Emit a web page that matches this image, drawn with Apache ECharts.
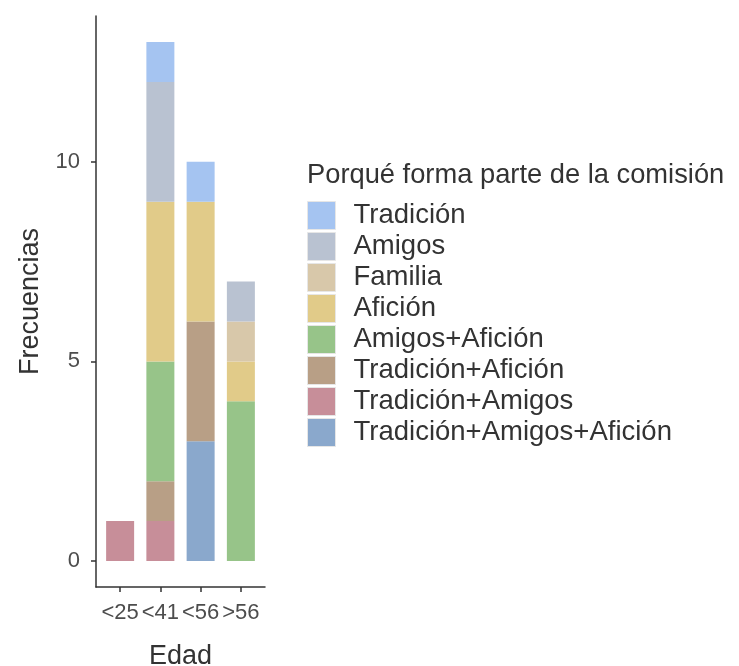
<!DOCTYPE html>
<html>
<head>
<meta charset="utf-8">
<script src="https://cdn.jsdelivr.net/npm/echarts@6/dist/echarts.min.js"></script>
<style>
  html, body { margin: 0; padding: 0; background: #fff; }
  #chart { width: 739px; height: 666px; }
</style>
</head>
<body>
<div id="chart"></div>
<script>
// Age groups on the x axis
const categories = ['<25', '<41', '<56', '>56'];

// Counts per age group for each reason (stack order: bottom to top)
const tradAmigosAficion = [0, 0, 3, 0];
const tradAmigos        = [1, 1, 0, 0];
const tradAficion       = [0, 1, 3, 0];
const amigosAficion     = [0, 3, 0, 4];
const aficion           = [0, 4, 3, 1];
const familia           = [0, 0, 0, 1];
const amigos            = [0, 3, 0, 1];
const tradicion         = [0, 1, 1, 0];

const yTicks = [0, 5, 10];

const stackSeries = [
  { name: 'Tradición+Amigos+Afición', values: tradAmigosAficion, color: '#8aa8cc' },
  { name: 'Tradición+Amigos',         values: tradAmigos,        color: '#c78e99' },
  { name: 'Tradición+Afición',        values: tradAficion,       color: '#b89f86' },
  { name: 'Amigos+Afición',           values: amigosAficion,     color: '#97c489' },
  { name: 'Afición',                  values: aficion,           color: '#e1cb89' },
  { name: 'Familia',                  values: familia,           color: '#d8c8aa' },
  { name: 'Amigos',                   values: amigos,            color: '#b9c2d1' },
  { name: 'Tradición',                values: tradicion,         color: '#a5c4f1' }
];

const FONT = 'Liberation Sans';
const AXIS_COLOR = '#333333';
const Y_MIN = -0.65, Y_MAX = 13.65;

const chart = echarts.init(document.getElementById('chart'), null, { renderer: 'canvas' });

const series = stackSeries.map(s => ({
  name: s.name,
  type: 'bar',
  stack: 'total',
  xAxisIndex: 1,
  yAxisIndex: 1,
  barWidth: 28,
  itemStyle: { color: s.color, borderWidth: 0 },
  emphasis: { disabled: true },
  data: s.values
}));

chart.setOption({
  animation: false,
  backgroundColor: '#ffffff',
  textStyle: { fontFamily: FONT },
  grid: [
    // outer frame: axis lines, y labels and titles
    { left: 96, top: 16, width: 169, height: 571, containLabel: false, outerBoundsMode: 'none' },
    // inner band area: discrete positions with 0.6 padding on each side
    { left: 100, top: 16, width: 161, height: 571, containLabel: false, outerBoundsMode: 'none' }
  ],
  xAxis: [
    {
      gridIndex: 0,
      type: 'value',
      min: 0, max: 1,
      name: 'Edad',
      nameLocation: 'middle',
      nameGap: 56,
      nameTextStyle: { fontSize: 27, color: AXIS_COLOR, fontFamily: FONT },
      axisLine: { show: true, onZero: false, lineStyle: { color: AXIS_COLOR, width: 1.5 } },
      axisTick: { show: false },
      axisLabel: { show: false },
      splitLine: { show: false }
    },
    {
      gridIndex: 1,
      type: 'category',
      data: categories,
      boundaryGap: true,
      axisLine: { show: false, onZero: false },
      axisTick: { show: true, alignWithLabel: true, length: 5, lineStyle: { color: AXIS_COLOR, width: 1.5 } },
      axisLabel: { fontSize: 22, color: '#4d4d4d', margin: 15, fontFamily: FONT, interval: 0 },
      splitLine: { show: false }
    }
  ],
  yAxis: [
    {
      gridIndex: 0,
      type: 'value',
      min: Y_MIN, max: Y_MAX,
      name: 'Frecuencias',
      nameLocation: 'middle',
      nameGap: 52,
      nameTextStyle: { fontSize: 27, color: AXIS_COLOR, fontFamily: FONT },
      axisLine: { show: true, onZero: false, lineStyle: { color: AXIS_COLOR, width: 1.5 } },
      axisTick: { show: true, length: 5, customValues: yTicks, lineStyle: { color: AXIS_COLOR, width: 1.5 } },
      axisLabel: { customValues: yTicks, fontSize: 22, color: '#4d4d4d', margin: 16, fontFamily: FONT },
      splitLine: { show: false }
    },
    {
      gridIndex: 1,
      type: 'value',
      min: Y_MIN, max: Y_MAX,
      show: false,
      splitLine: { show: false }
    }
  ],
  legend: {
    orient: 'vertical',
    left: 307,
    top: 201,
    padding: 0,
    itemWidth: 28,
    itemHeight: 28,
    itemGap: 2,
    icon: 'rect',
    selectedMode: false,
    data: stackSeries.slice().reverse().map(s => ({
      name: s.name,
      itemStyle: { borderColor: '#e6e6e6', borderWidth: 1 }
    })),
    textStyle: { fontSize: 27.5, color: AXIS_COLOR, fontFamily: FONT, padding: [0, 0, 0, 13] }
  },
  graphic: [{
    type: 'text',
    x: 307,
    y: 175,
    style: {
      text: 'Porqué forma parte de la comisión',
      fontSize: 27.3, fill: AXIS_COLOR, fontFamily: FONT,
      verticalAlign: 'middle'
    }
  }],
  series: series
});
</script>
</body>
</html>
